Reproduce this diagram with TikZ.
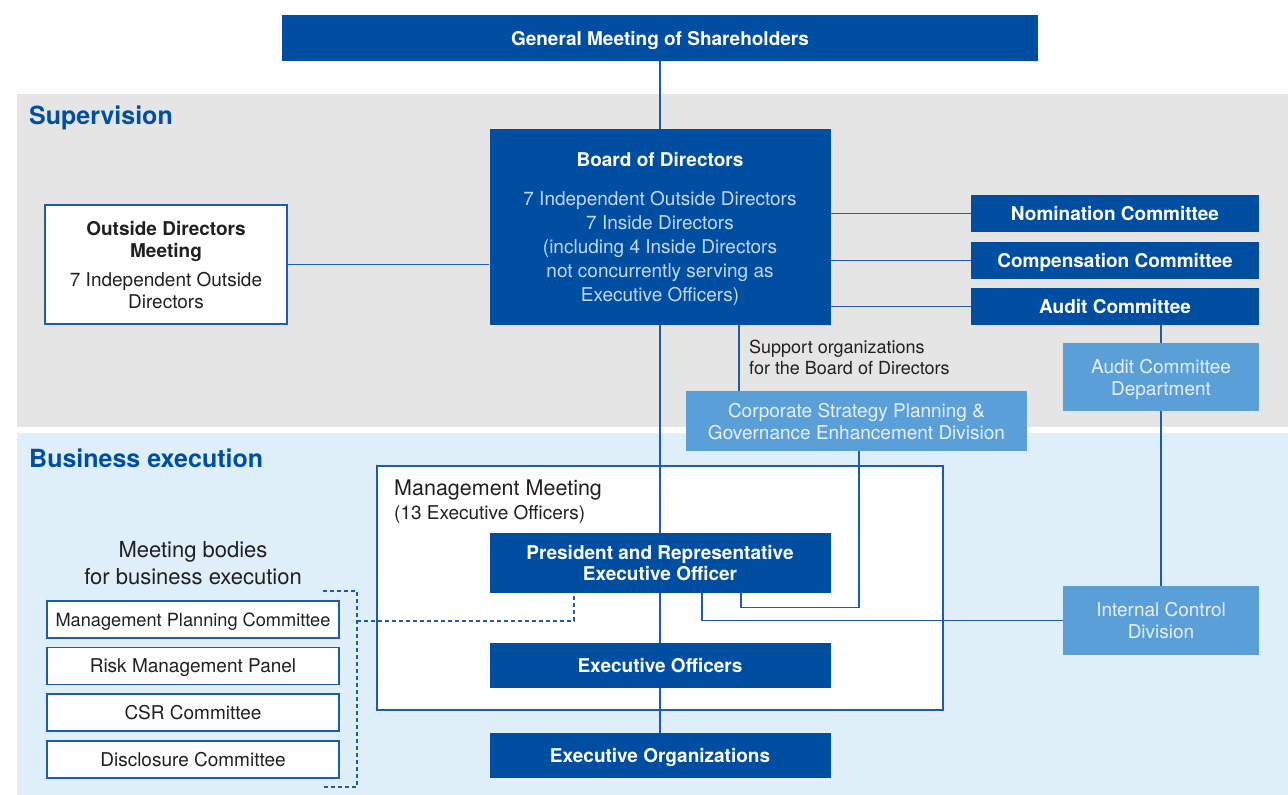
\documentclass[tikz,border=0pt]{standalone}
\usepackage{fontspec}
\setmainfont{TeX Gyre Heros}
\definecolor{navy}{RGB}{0,78,162}
\definecolor{midblue}{RGB}{91,159,216}
\definecolor{linecol}{RGB}{28,92,170}
\definecolor{bandgray}{RGB}{229,229,229}
\definecolor{bandblue}{RGB}{222,239,250}
\definecolor{paletxt}{RGB}{196,216,240}
\definecolor{softtxt}{RGB}{232,241,251}
\definecolor{inktxt}{RGB}{35,31,32}
\newcommand\basefont{\fontsize{19}{24}\selectfont}
\begin{document}
\begin{tikzpicture}[x=1pt,y=-1pt,
    darkbox/.style={fill=navy,text=white,font=\basefont\bfseries,inner sep=0pt,text depth=0pt,
        align=center,minimum width=341pt,minimum height=45pt},
    combox/.style={darkbox,minimum width=288pt,minimum height=37pt},
    lightbox/.style={fill=midblue,text=softtxt,font=\fontsize{19}{22}\selectfont,text depth=0pt,
        inner sep=0pt,align=center,minimum width=196pt},
    whitebox/.style={fill=white,draw=linecol,line width=1.4pt,text=inktxt,text depth=0pt,
        font=\basefont,inner sep=0pt,align=center},
    bodybox/.style={whitebox,minimum width=292pt,minimum height=37pt},
    link/.style={draw=linecol,line width=1.4pt},
    dashlink/.style={link,dash pattern=on 4pt off 3pt},
    header/.style={text=navy,font=\fontsize{25}{28}\selectfont\bfseries,anchor=west,inner sep=0pt}]
    \useasboundingbox (0,0) rectangle (1288,795);

    % the two bands
    \fill[bandgray] (17,94) rectangle (1288,427);
    \fill[bandblue] (17,433) rectangle (1288,795);
    \node[header] (sup) at (29,118) {Supervision};
    \node[header] (bus) at (29,458) {Business execution};

    \node[darkbox,minimum width=756pt,minimum height=46pt] (gm) at (660,38) {General Meeting of Shareholders};

    \node[darkbox,minimum height=196pt,text=paletxt,font=\basefont] (board) at (660,227)
        {\textcolor{white}{\bfseries Board of Directors}\\[15pt]7 Independent Outside Directors\\7 Inside Directors\\(including 4 Inside Directors\\not concurrently serving as\\Executive Officers)};

    \node[whitebox,minimum width=242pt,minimum height=119pt,font=\fontsize{19}{22}\selectfont] (odm) at (166,264.5)
        {\textbf{Outside Directors}\\\textbf{Meeting}\\[7pt]7 Independent Outside\\Directors};

    \node[combox] (nom) at (1115,213.5) {Nomination Committee};
    \node[combox] (comp) at (1115,260.5) {Compensation Committee};
    \node[combox] (aud) at (1115,306.5) {Audit Committee};

    \node[lightbox,minimum height=68pt] (acd) at (1161,377) {Audit Committee\\Department};
    \node[lightbox,minimum height=69pt] (icd) at (1161,620.5) {Internal Control\\Division};
    \node[lightbox,minimum width=341pt,minimum height=60pt] (csp) at (856.5,421)
        {Corporate Strategy Planning \&\\Governance Enhancement Division};
    \node[anchor=west,align=left,inner sep=0pt,text=inktxt,font=\fontsize{18}{21}\selectfont] (supp) at (749,357.5)
        {Support organizations\\for the Board of Directors};

    % management meeting frame
    \node[whitebox,minimum width=566pt,minimum height=244pt] (mm) at (660,588) {};
    \node[anchor=west,inner sep=0pt,text=inktxt,font=\fontsize{21.5}{24}\selectfont] (mmt) at (394,490) {Management Meeting};
    \node[anchor=west,inner sep=0pt,text=inktxt,font=\fontsize{19}{20}\selectfont] (mmn) at (394,514) {(13 Executive Officers)};

    \node[darkbox,minimum height=60pt,font=\fontsize{19}{21}\selectfont\bfseries] (pres) at (660,563)
        {President and Representative\\Executive Officer};
    \node[darkbox] (eo) at (660,665.5) {Executive Officers};
    \node[darkbox] (eorg) at (660,755.5) {Executive Organizations};

    % meeting bodies
    \node[align=center,inner sep=0pt,text=inktxt,font=\fontsize{22}{27}\selectfont] (mbt) at (193,563.5)
        {Meeting bodies\\for business execution};
    \node[bodybox,font=\fontsize{18.2}{22}\selectfont] (mpc) at (193,619.5) {Management Planning Committee};
    \node[bodybox] (rmp) at (193,666) {Risk Management Panel};
    \node[bodybox] (csr) at (193,712.5) {CSR Committee};
    \node[bodybox] (dsc) at (193,759.5) {Disclosure Committee};
    \coordinate (brk) at (357,621);
    \draw[dashlink] (323,591) -- (357,591) -- (357,787) -- (323,787);

    % connectors
    \draw[link] (gm.south) -- (board.north);
    \draw[link] (board.south) -- (pres.north);
    \draw[link] (pres.south) -- (eo.north);
    \draw[link] (eo.south) -- (eorg.north);
    \draw[link] (odm.east) -- (odm.east -| board.west);
    \draw[link] (nom.west -| board.east) -- (nom.west);
    \draw[link] (comp.west -| board.east) -- (comp.west);
    \draw[link] (aud.west -| board.east) -- (aud.west);
    \draw[link] (aud.south -| acd.north) -- (acd.north);
    \draw[link] (acd.south) -- (icd.north);
    \draw[link] ([xshift=79pt]board.south) -- ([xshift=79pt]board.south |- csp.north);
    \draw[link] ([xshift=2.5pt]csp.south) -- ++(0,156) -| ([xshift=81pt]pres.south);
    \draw[link] (icd.west) -| ([xshift=42pt]pres.south);
    \draw[dashlink] (brk) -| ([xshift=-86pt]pres.south);
\end{tikzpicture}
\end{document}
